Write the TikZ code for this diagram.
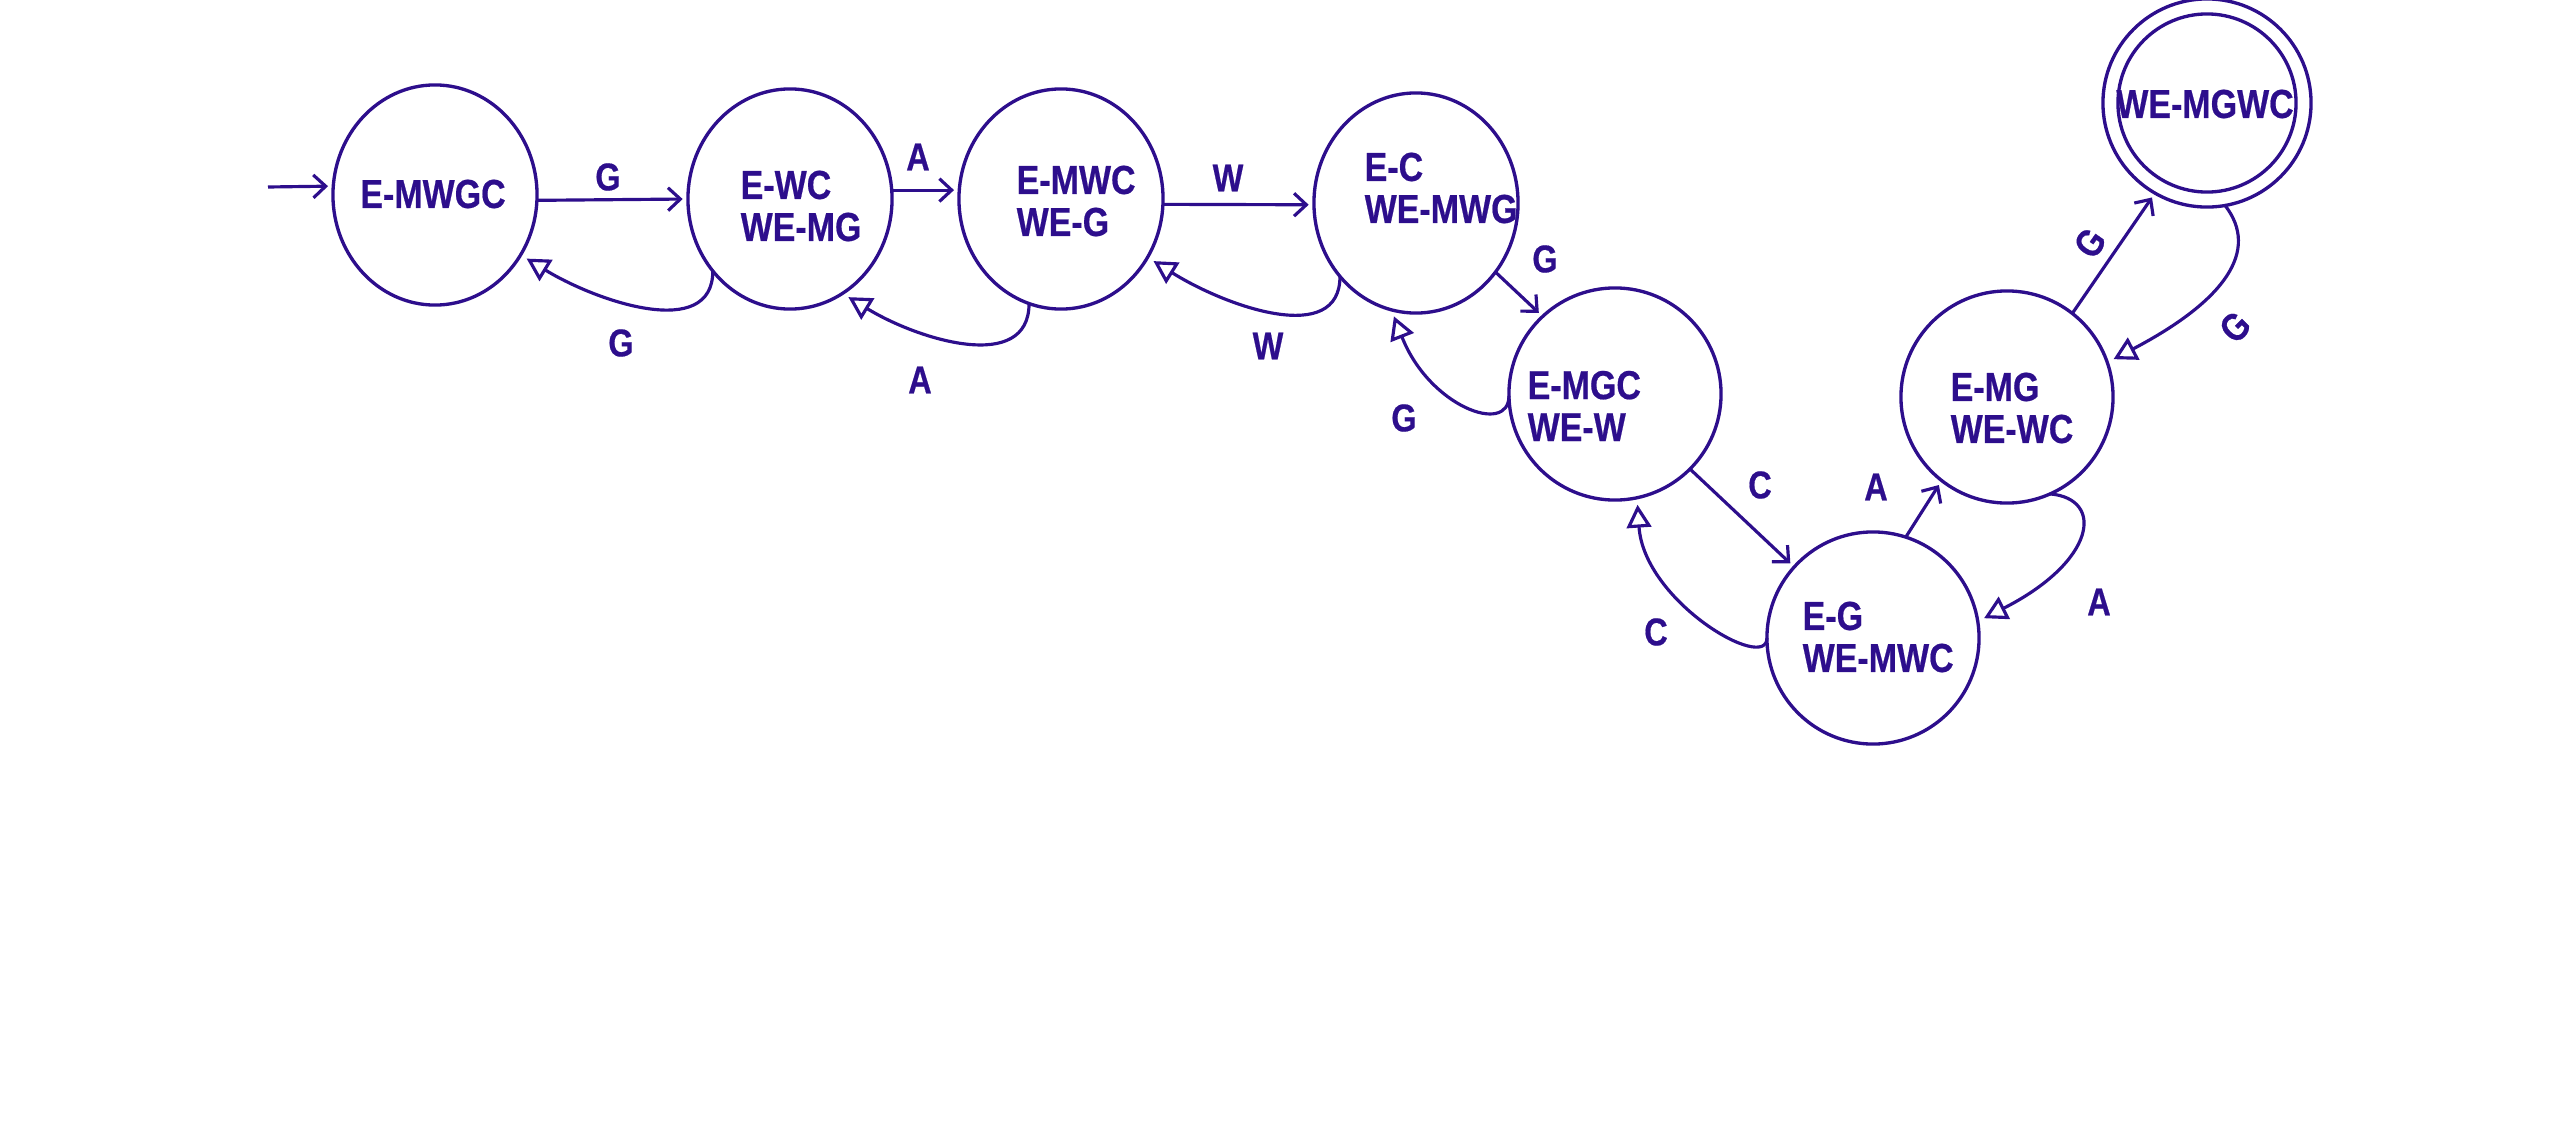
\documentclass[tikz,border=0pt]{standalone}
\usepackage{fontspec}
\setmainfont{Liberation Sans}[FakeStretch=0.84,BoldFeatures={FakeBold=0.5}]
\usetikzlibrary{arrows.meta,shapes.geometric}
\definecolor{ink}{RGB}{45,14,140}
\begin{document}
\begin{tikzpicture}[x=0.01cm,y=-0.01cm,
  stA/.style={draw=ink,line width=0.95pt,ellipse,minimum width=2.04cm,minimum height=2.2cm,inner sep=0pt,outer sep=0pt},
  stB/.style={draw=ink,line width=0.95pt,circle,minimum size=2.12cm,inner sep=0pt,outer sep=0pt},
  txt/.style={text=ink,font=\fontsize{11.5}{11.95}\selectfont\bfseries,align=left,inner sep=0pt},
  lbl/.style={text=ink,font=\fontsize{11}{12}\selectfont\bfseries,inner sep=0pt},
  fwd/.style={draw=ink,line width=0.9pt,-{Straight Barb[length=3.5pt,width=6.5pt]},shorten >=1.5pt},
  back/.style={draw=ink,line width=0.9pt,-{Triangle[open,length=6.5pt,width=7pt]},shorten >=2pt}]
\useasboundingbox (0,0) rectangle (2550,1127);

% states
\node[stA] (s1) at (435,195) {};
\node[stA] (s2) at (790,199) {};
\node[stA] (s3) at (1061,199) {};
\node[stA] (s4) at (1416,203) {};
\node[stB] (s5) at (1615,394) {};
\node[stB] (s6) at (1873,638) {};
\node[stB] (s7) at (2007,397) {};
\node[stB,minimum size=2.08cm] (s8) at (2207,103) {};
\draw[ink,line width=0.95pt] (s8.center) circle[radius=0.89cm];

% state texts
\node[txt] (t1) at (433,194) {E-MWGC};
\node[txt,anchor=west] (t2) at (740,206) {E-WC\\WE-MG};
\node[txt,anchor=west] (t3) at (1016,201) {E-MWC\\WE-G};
\node[txt,anchor=west] (t4) at (1364,188) {E-C\\WE-MWG};
\node[txt,anchor=west] (t5) at (1527,406) {E-MGC\\WE-W};
\node[txt,anchor=west] (t6) at (1802,637) {E-G\\WE-MWC};
\node[txt,anchor=west] (t7) at (1950,408) {E-MG\\WE-WC};
\node[txt] (t8) at (2205,104) {WE-MGWC};

% forward transitions
\coordinate (start) at (268,187);
\draw[fwd] (start) -- (s1.175);
\draw[fwd] (s1.-3) -- (s2.180);
\draw[fwd] (s2.5) -- (s3.175);
\draw[fwd] (s3.-3) -- (s4.181);
\draw[fwd] (s4.-41) -- (s5.133);
\draw[fwd] (s5.-45) -- (s6.138);
\draw[fwd] (s6.72) -- (s7.232);
\draw[fwd] (s7.52) -- (s8.240);

% backward transitions
\draw[back] (s2.223) .. controls +(0,70) and +(77,47) .. (s1.-35);
\draw[back] (s3.253) .. controls +(0,70) and +(77,47) .. (s2.-61);
\draw[back] (s4.224) .. controls +(0,70) and +(80,50) .. (s3.-34);
\draw[back] (s5.181) .. controls +(0,40) and +(38,97) .. (s4.257);
\draw[back] (s6.180) .. controls +(0,35) and +(7,104) .. (s5.-78);
\draw[back] (s7.-66) .. controls +(55,5) and +(118,-60) .. (s6.9);
\draw[back] (s8.-80) .. controls +(35,45) and +(118,-62) .. (s7.19);

% labels
\node[lbl] (l12) at (608,177) {G};
\node[lbl] (l21) at (621,343) {G};
\node[lbl] (l23) at (918,157) {A};
\node[lbl] (l32) at (920,380) {A};
\node[lbl] (l34) at (1228,178) {W};
\node[lbl] (l43) at (1268,346) {W};
\node[lbl] (l45) at (1545,259) {G};
\node[lbl] (l54) at (1404,418) {G};
\node[lbl] (l56) at (1760,485) {C};
\node[lbl] (l65) at (1656,632) {C};
\node[lbl] (l67) at (1876,487) {A};
\node[lbl] (l76) at (2099,602) {A};
\node[lbl,rotate=55] (l78) at (2090,243) {G};
\node[lbl,rotate=45] (l87) at (2235,327) {G};
\end{tikzpicture}
\end{document}
